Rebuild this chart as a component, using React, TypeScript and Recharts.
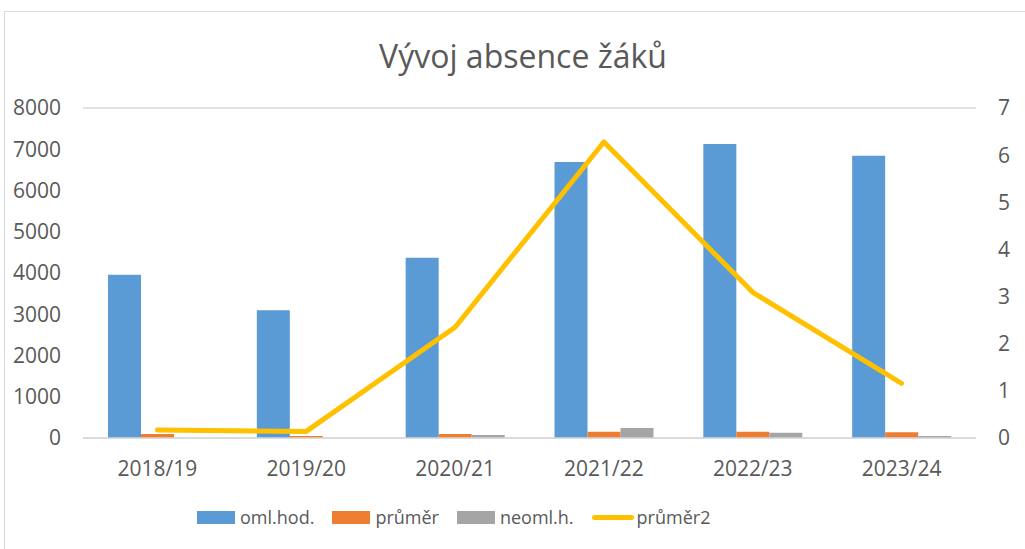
import React from 'react';
import {
    ComposedChart,
    Bar,
    Line,
    XAxis,
    YAxis,
    CartesianGrid,
    Legend,
} from 'recharts';

const years = ['2018/19', '2019/20', '2020/21', '2021/22', '2022/23', '2023/24'];
const omlHod = [3960, 3100, 4370, 6690, 7130, 6840];
const prumer = [100, 50, 100, 150, 150, 140];
const neomlH = [0, 0, 75, 240, 130, 50];
const prumer2 = [0.17, 0.14, 2.35, 6.28, 3.09, 1.16];

const leftTicks = [0, 1000, 2000, 3000, 4000, 5000, 6000, 7000, 8000];
const rightTicks = [0, 1, 2, 3, 4, 5, 6, 7];

const seriesNames = ['oml.hod.', 'průměr', 'neoml.h.', 'průměr2'];
const seriesColors = ['#5B9BD5', '#ED7D31', '#A5A5A5', '#FFC000'];

const data = years.map((year, i) => ({
    year,
    omlHod: omlHod[i],
    prumer: prumer[i],
    neomlH: neomlH[i],
    prumer2: prumer2[i],
}));

const FONT = '"Open Sans", sans-serif';
const TEXT = '#595959';

// legend drawn like the spreadsheet one, in series order (recharts 3 sorts by name otherwise)
const ChartLegend = () => (
    <div
        style={{
            display: 'flex',
            justifyContent: 'flex-start',
            alignItems: 'center',
            fontFamily: FONT,
            fontSize: 18,
            color: TEXT,
            paddingLeft: 184,
            paddingTop: 4,
        }}
    >
        {seriesNames.map((name, i) => (
            <div key={name} style={{ display: 'flex', alignItems: 'center', marginRight: 18 }}>
                {i === 3 ? (
                    <div style={{ width: 42, height: 5, borderRadius: 3, background: seriesColors[i], marginRight: 3 }} />
                ) : (
                    <div style={{ width: 38, height: 13, background: seriesColors[i], marginRight: 5 }} />
                )}
                <span>{name}</span>
            </div>
        ))}
    </div>
);

const App: React.FC = () => {
    return (
        <div
            style={{
                position: 'absolute',
                left: 0,
                top: 0,
                width: 1025,
                height: 549,
                overflow: 'hidden',
                background: '#fff',
            }}
        >
            <div
                style={{
                    position: 'absolute',
                    left: 4,
                    top: 11,
                    width: 1100,
                    height: 600,
                    border: '1px solid #D9D9D9',
                }}
            />
            <div
                style={{
                    position: 'absolute',
                    top: 34,
                    left: 0,
                    width: 1046,
                    textAlign: 'center',
                    fontFamily: FONT,
                    fontSize: 32,
                    color: TEXT,
                }}
            >
                Vývoj absence žáků
            </div>
            <div style={{ position: 'absolute', left: 0, top: 0 }}>
                <ComposedChart
                    width={1025}
                    height={549}
                    data={data}
                    margin={{ top: 108, right: 9, left: 13, bottom: 20 }}
                    barGap={0}
                >
                    <CartesianGrid vertical={false} stroke="#D9D9D9" strokeWidth={1.5} />
                    <XAxis
                        dataKey="year"
                        height={63}
                        tickSize={0}
                        tickMargin={23}
                        axisLine={{ stroke: '#D9D9D9', strokeWidth: 1.5 }}
                        tick={{ fill: TEXT, fontSize: 21, fontFamily: FONT }}
                    />
                    <YAxis
                        yAxisId="left"
                        width={70}
                        domain={[0, 8000]}
                        ticks={leftTicks}
                        tickSize={0}
                        tickMargin={22}
                        axisLine={false}
                        tick={{ fill: TEXT, fontSize: 21, fontFamily: FONT }}
                    />
                    <YAxis
                        yAxisId="right"
                        orientation="right"
                        width={40}
                        domain={[0, 7]}
                        ticks={rightTicks}
                        tickSize={0}
                        tickMargin={22}
                        axisLine={false}
                        tick={{ fill: TEXT, fontSize: 21, fontFamily: FONT }}
                    />
                    <Legend verticalAlign="bottom" content={<ChartLegend />} />
                    <Bar yAxisId="left" dataKey="omlHod" name={seriesNames[0]} fill={seriesColors[0]} barSize={33} isAnimationActive={false} />
                    <Bar yAxisId="left" dataKey="prumer" name={seriesNames[1]} fill={seriesColors[1]} barSize={33} isAnimationActive={false} />
                    <Bar yAxisId="left" dataKey="neomlH" name={seriesNames[2]} fill={seriesColors[2]} barSize={33} isAnimationActive={false} />
                    <Line
                        yAxisId="right"
                        type="linear"
                        dataKey="prumer2"
                        name={seriesNames[3]}
                        stroke={seriesColors[3]}
                        strokeWidth={5}
                        strokeLinecap="round"
                        strokeLinejoin="round"
                        dot={false}
                        isAnimationActive={false}
                    />
                </ComposedChart>
            </div>
        </div>
    );
};

export default App;
